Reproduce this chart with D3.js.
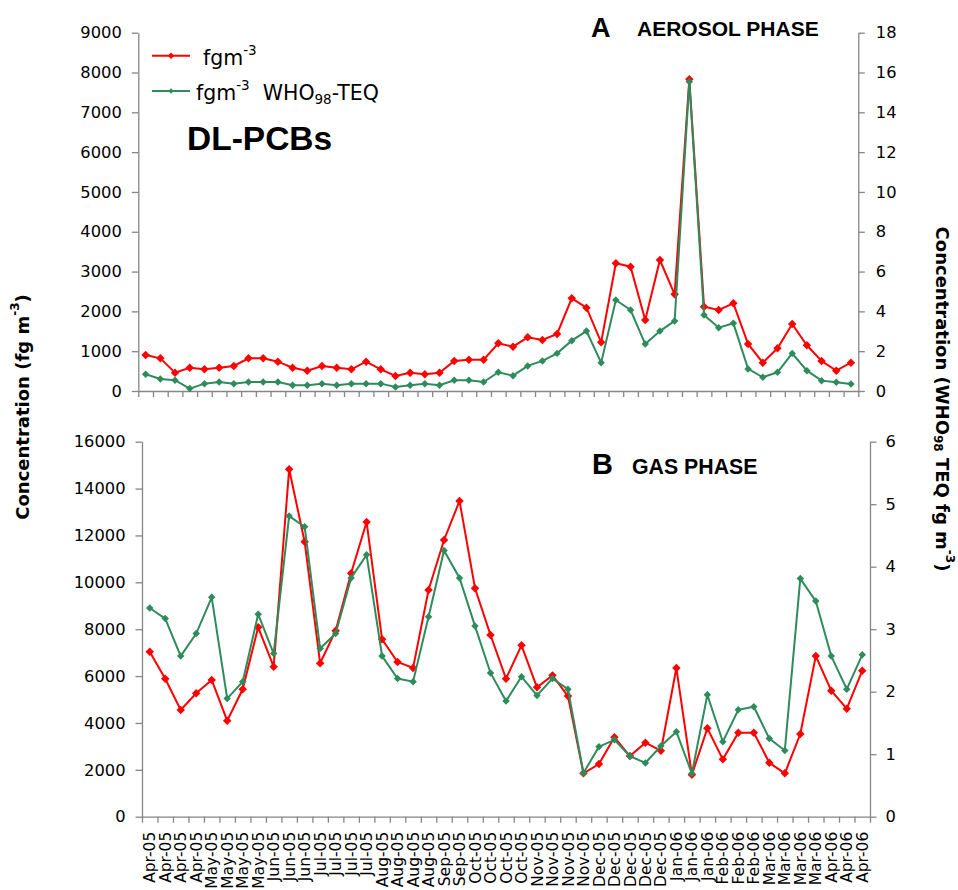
<!DOCTYPE html>
<html><head><meta charset="utf-8">
<script src="https://cdn.jsdelivr.net/npm/d3@7"></script>
<style>body{margin:0;background:#fff}</style>
</head><body>
<svg id="c" width="958" height="890"></svg>
<script>
// ---------- DATA ----------
// Panel A (aerosol phase): 49 samples, no tick labels shown
const aerosolSamples = [1,2,3,4,5,6,7,8,9,10,11,12,13,14,15,16,17,18,19,20,21,22,23,24,25,26,27,28,29,30,31,32,33,34,35,36,37,38,39,40,41,42,43,44,45,46,47,48,49];
const aerosolConc = [904, 821, 460, 585, 545, 585, 628, 821, 821, 736,
  585, 510, 628, 585, 545, 736, 545, 377, 460, 419,
  460, 754, 786, 786, 1198, 1113, 1349, 1281, 1432, 2328,
  2093, 1222, 3207, 3123, 1784, 3291, 2428, 7830, 2118, 2035,
  2203, 1181, 711, 1072, 1683, 1148, 754, 510, 711];
const aerosolTEQ = [0.84, 0.60, 0.54, 0.12, 0.37, 0.45, 0.37, 0.45, 0.45, 0.45,
  0.29, 0.29, 0.37, 0.29, 0.37, 0.37, 0.37, 0.20, 0.29, 0.37,
  0.29, 0.54, 0.54, 0.45, 0.94, 0.77, 1.26, 1.51, 1.89, 2.53,
  3.01, 1.42, 4.57, 4.07, 2.36, 3.01, 3.52, 15.54, 3.82, 3.18,
  3.40, 1.11, 0.69, 0.94, 1.89, 1.02, 0.52, 0.44, 0.35];

// Panel B (gas phase): 47 samples with date labels
const gasLabels = ["Apr-05","Apr-05","Apr-05","Apr-05","May-05","May-05","May-05","May-05",
  "Jun-05","Jun-05","Jun-05","Jul-05","Jul-05","Jul-05","Jul-05",
  "Aug-05","Aug-05","Aug-05","Aug-05","Sep-05","Sep-05",
  "Oct-05","Oct-05","Oct-05","Oct-05","Nov-05","Nov-05","Nov-05","Nov-05",
  "Dec-05","Dec-05","Dec-05","Dec-05","Dec-05","Jan-06","Jan-06","Jan-06",
  "Feb-06","Feb-06","Feb-06","Mar-06","Mar-06","Mar-06","Mar-06",
  "Apr-06","Apr-06","Apr-06"];
const gasConc = [7040, 5888, 4553, 5265, 5833, 4096, 5436, 8081, 6400, 14823,
  11734, 6545, 7936, 10386, 12575, 7569, 6601, 6345, 9673, 11807,
  13471, 9746, 7753, 5888, 7313, 5521, 6030, 5148, 1849, 2247,
  3385, 2588, 3157, 2816, 6343, 1792, 3769, 2446, 3584, 3584,
  2304, 1849, 3527, 6855, 5376, 4608, 6229];
const gasTEQ = [3.34, 3.17, 2.57, 2.93, 3.51, 1.89, 2.16, 3.24, 2.61, 4.81,
  4.64, 2.69, 2.93, 3.82, 4.19, 2.57, 2.21, 2.16, 3.20, 4.26,
  3.82, 3.05, 2.30, 1.85, 2.24, 1.94, 2.21, 2.04, 0.70, 1.12,
  1.23, 0.97, 0.86, 1.13, 1.36, 0.69, 1.95, 1.20, 1.71, 1.76,
  1.25, 1.06, 3.81, 3.45, 2.57, 2.04, 2.59];

const aerosolLeftTicks = [0,1000,2000,3000,4000,5000,6000,7000,8000,9000];
const aerosolRightTicks = [0,2,4,6,8,10,12,14,16,18];
const gasLeftTicks = [0,2000,4000,6000,8000,10000,12000,14000,16000];
const gasRightTicks = [0,1,2,3,4,5,6];

// ---------- STYLE ----------
const FONT = "'DejaVu Sans', sans-serif";
const BOLD = "'Liberation Sans', Arial, sans-serif";
const GRAY = "#868686";
const RED = "#ff0000";
const GREEN = "#2e8b5c";
const svg = d3.select("#c");

function styleAxis(g, fs) {
  g.select(".domain").attr("stroke", GRAY).attr("stroke-width", 1.3);
  g.selectAll(".tick line").attr("stroke", GRAY).attr("stroke-width", 1.3);
  g.selectAll(".tick text").attr("fill", "#000").style("font-family", FONT).style("font-size", fs + "px");
}

function diamond(size) {
  return d3.symbol().type(d3.symbolSquare).size(size)();
}

function panel(cfg) {
  const n = cfg.cats.length;
  const x = d3.scaleBand().domain(cfg.cats).range([cfg.left, cfg.right]).paddingInner(0).paddingOuter(0);
  const xEdge = d3.scaleLinear().domain([0, n]).range([cfg.left, cfg.right]);
  const yL = d3.scaleLinear().domain([0, cfg.leftTicks[cfg.leftTicks.length - 1]]).range([cfg.bottom, cfg.top]);
  const yR = d3.scaleLinear().domain([0, cfg.rightTicks[cfg.rightTicks.length - 1]]).range([cfg.bottom, cfg.top]);
  const cx = i => x(cfg.cats[i]) + x.bandwidth() / 2;

  // bottom tick marks at category boundaries
  const gb = svg.append("g").attr("transform", `translate(0,${cfg.bottom})`)
    .call(d3.axisBottom(xEdge).tickValues(d3.range(0, n + 1)).tickSize(6).tickSizeOuter(0).tickFormat(""));
  styleAxis(gb, 14);

  if (cfg.labels) {
    const gl = svg.append("g").attr("transform", `translate(0,${cfg.bottom})`)
      .call(d3.axisBottom(x).tickSize(0).tickFormat((d, i) => cfg.labels[i]));
    gl.select(".domain").remove();
    gl.selectAll(".tick text")
      .attr("transform", "rotate(-90)")
      .attr("x", -15).attr("y", 0).attr("dy", "0.36em")
      .attr("text-anchor", "end")
      .attr("fill", "#000")
      .style("font-family", FONT).style("font-size", "15.5px");
  }

  const gL = svg.append("g").attr("transform", `translate(${cfg.left},0)`)
    .call(d3.axisLeft(yL).tickValues(cfg.leftTicks).tickSize(6.5).tickSizeOuter(0).tickPadding(cfg.padL).tickFormat(d3.format("d")));
  styleAxis(gL, 16.3);
  const gR = svg.append("g").attr("transform", `translate(${cfg.right},0)`)
    .call(d3.axisRight(yR).tickValues(cfg.rightTicks).tickSize(6.5).tickSizeOuter(0).tickPadding(cfg.padR).tickFormat(d3.format("d")));
  styleAxis(gR, 16.3);

  // red series (left axis)
  svg.append("path").datum(cfg.conc)
    .attr("fill", "none").attr("stroke", RED).attr("stroke-width", 2)
    .attr("d", d3.line().x((d, i) => cx(i)).y(d => yL(d)));
  svg.append("g").selectAll("path").data(cfg.conc).join("path")
    .attr("d", diamond(36))
    .attr("transform", (d, i) => `translate(${cx(i)},${yL(d)}) rotate(45)`)
    .attr("fill", RED);

  // green series (right axis)
  svg.append("path").datum(cfg.teq)
    .attr("fill", "none").attr("stroke", GREEN).attr("stroke-width", 2)
    .attr("d", d3.line().x((d, i) => cx(i)).y(d => yR(d)));
  svg.append("g").selectAll("path").data(cfg.teq).join("path")
    .attr("d", diamond(28))
    .attr("transform", (d, i) => `translate(${cx(i)},${yR(d)}) rotate(45)`)
    .attr("fill", GREEN);
}

panel({cats: aerosolSamples, conc: aerosolConc, teq: aerosolTEQ,
  left: 138.3, right: 858.3, top: 32.7, bottom: 391,
  leftTicks: aerosolLeftTicks, rightTicks: aerosolRightTicks, padL: 10, padR: 11, labels: null});

panel({cats: d3.range(gasLabels.length), conc: gasConc, teq: gasTEQ,
  left: 142, right: 870, top: 441.7, bottom: 816.7,
  leftTicks: gasLeftTicks, rightTicks: gasRightTicks, padL: 10, padR: 9, labels: gasLabels});

// ---------- TEXT ----------
svg.append("text").attr("x", 591).attr("y", 37).text("A")
  .style("font-family", BOLD).style("font-weight", "bold").style("font-size", "27px");
svg.append("text").attr("x", 637).attr("y", 36).text("AEROSOL PHASE")
  .style("font-family", BOLD).style("font-weight", "bold").style("font-size", "21px");
svg.append("text").attr("x", 592).attr("y", 474).text("B")
  .style("font-family", BOLD).style("font-weight", "bold").style("font-size", "29px");
svg.append("text").attr("x", 632).attr("y", 474).text("GAS PHASE")
  .style("font-family", BOLD).style("font-weight", "bold").style("font-size", "21.3px");
svg.append("text").attr("x", 187).attr("y", 150).text("DL-PCBs")
  .style("font-family", BOLD).style("font-weight", "bold").style("font-size", "33.5px");

// legend
const legend = svg.append("g");
[[RED, 55.7, 34], [GREEN, 91, 24]].forEach(([c, y, s]) => {
  legend.append("line").attr("x1", 152).attr("x2", 190).attr("y1", y).attr("y2", y)
    .attr("stroke", c).attr("stroke-width", 2);
  legend.append("path").attr("d", diamond(s * 0.6)).attr("transform", `translate(171,${y}) rotate(45)`).attr("fill", c);
});
const t1 = legend.append("text").attr("x", 203).attr("y", 65).style("font-family", FONT).style("font-size", "20.5px");
t1.append("tspan").text("fgm");
t1.append("tspan").attr("dy", -10).style("font-size", "13.5px").text("-3");
const t2 = legend.append("text").attr("x", 196).attr("y", 100).style("font-family", FONT).style("font-size", "20.5px");
t2.append("tspan").text("fgm");
t2.append("tspan").attr("dy", -10).style("font-size", "13.5px").text("-3");
t2.append("tspan").attr("dy", 10).text("\u00a0 WHO");
t2.append("tspan").attr("dy", 4).style("font-size", "13.5px").text("98");
t2.append("tspan").attr("dy", -4).text("-TEQ");

// axis titles
const lt = svg.append("text").attr("transform", "translate(22,407) rotate(-90)")
  .attr("text-anchor", "middle").attr("dominant-baseline", "central")
  .style("font-family", FONT).style("font-weight", "bold").style("font-size", "18px");
lt.append("tspan").text("Concentration (fg m");
lt.append("tspan").attr("dy", -7).style("font-size", "12px").text("-3");
lt.append("tspan").attr("dy", 7).text(")");

const rt = svg.append("text").attr("transform", "translate(943,399) rotate(90)")
  .attr("text-anchor", "middle").attr("dominant-baseline", "central")
  .style("font-family", FONT).style("font-weight", "bold").style("font-size", "18px");
rt.append("tspan").text("Concentration (WHO");
rt.append("tspan").attr("dy", 5).style("font-size", "12px").text("98");
rt.append("tspan").attr("dy", -5).text(" TEQ fg m");
rt.append("tspan").attr("dy", -7).style("font-size", "12px").text("-3");
rt.append("tspan").attr("dy", 7).text(")");
</script>
</body></html>
